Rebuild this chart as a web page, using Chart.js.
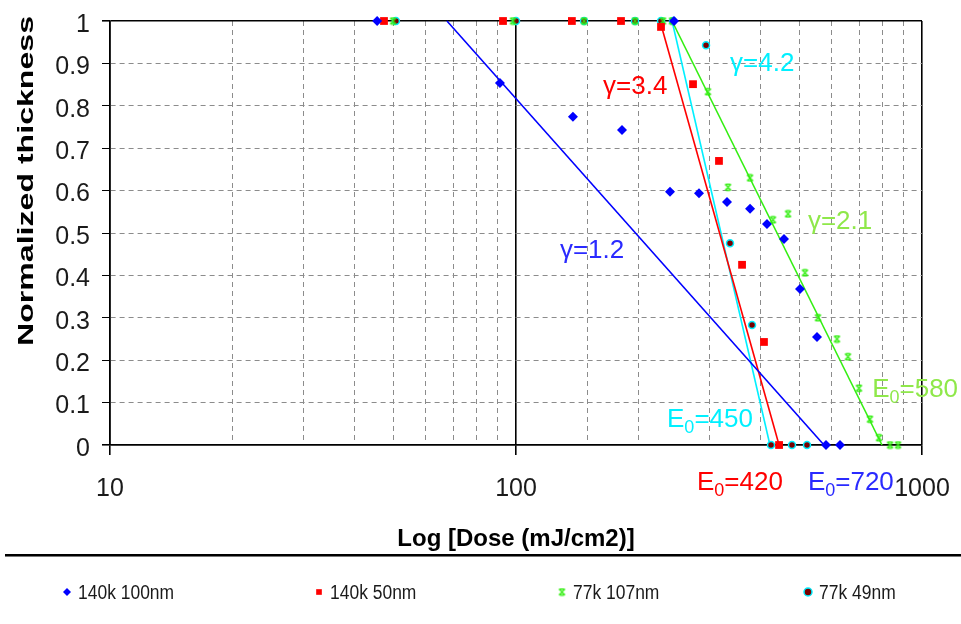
<!DOCTYPE html>
<html>
<head>
<meta charset="utf-8">
<title>Normalized thickness vs dose</title>
<script src="https://cdn.jsdelivr.net/npm/chart.js@4.4.1/dist/chart.umd.min.js"></script>
<style>
  html, body { margin: 0; padding: 0; background: #fff; }
  #wrap { width: 961px; height: 624px; }
</style>
</head>
<body>
<div id="wrap"><canvas id="chart" width="961" height="624"></canvas></div>
<script>
// --- measured points: dose (mJ/cm2) and normalized thickness ---
const seriesNames = ['140k 100nm', '140k 50nm', '77k 107nm', '77k 49nm']

const dose140k100 = [45.5, 245, 91.3, 138.1, 182.4, 239.5, 282.3, 330.9, 377.1, 415.1, 457.2, 500.6, 551.3, 580.1, 628.1]
const thick140k100 = [1, 1, 0.854, 0.774, 0.743, 0.597, 0.594, 0.573, 0.557, 0.521, 0.486, 0.368, 0.255, 0, 0]

const dose140k50 = [47.3, 92.9, 137.3, 181.4, 227.6, 272.9, 316.2, 360.4, 408.1, 444.6]
const thick140k50 = [1, 1, 1, 1, 0.986, 0.851, 0.670, 0.425, 0.243, 0]

const dose77k107 = [49.8, 98.3, 147.1, 196.4, 230.2, 242.3, 297.1, 332.8, 377.1, 429.5, 467.7, 515.0, 554.3, 617.5, 657.2, 699.5, 744.5, 783.8, 834.2, 872.9]
const thick77k107 = [1, 1, 1, 1, 1, 1, 0.833, 0.608, 0.630, 0.531, 0.545, 0.406, 0.300, 0.250, 0.208, 0.134, 0.061, 0.017, 0, 0]

const dose77k49 = [50.6, 100, 147.1, 196.4, 227.6, 243.6, 293.8, 336.6, 381.4, 424.7, 478.4, 520.9]
const thick77k49 = [1, 1, 1, 1, 1, 1, 0.943, 0.476, 0.283, 0, 0, 0]

// contrast fit lines (dose at thickness 1 -> dose at thickness 0)
const fitThick = [1, 0]
const fitDose140k100 = [67.6, 573.6]
const fitDose140k50 = [226.3, 444.6]
const fitDose77k107 = [242.3, 797]
const fitDose77k49 = [242.3, 422.2]

// labels on the fits
const gammaText = ['γ=1.2', 'γ=3.4', 'γ=2.1', 'γ=4.2']
const e0Text = ['720', '420', '580', '450']

// axis ticks
const xTickLabels = [10, 100, 1000]
const yTickLabels = ['0', '0.1', '0.2', '0.3', '0.4', '0.5', '0.6', '0.7', '0.8', '0.9', '1']

// --- styles ---
const FONT = '"Liberation Sans", Arial, sans-serif'
const colors = {
  blue: '#0000ff',
  red: '#ff0000',
  green: '#33ee11',
  cyan: '#00f0ff',
  greenText: '#8fe84a',
  blueText: '#2a2aff'
}

// anchors (dose, thickness) of the text labels: left edge / baseline
const gammaAnchor = [[128.3, 0.441], [163.8, 0.828], [523.6, 0.509], [336.6, 0.882]]
const e0Anchor = [[523.6, -0.106], [279.1, -0.106], [753.8, 0.113], [235.5, 0.0425]]
const labelColors = [colors.blueText, colors.red, colors.greenText, colors.cyan]

// green "star" marker
function makeStarMark(color, size) {
  const c = document.createElement('canvas')
  c.width = size
  c.height = size
  const g = c.getContext('2d')
  g.strokeStyle = color
  g.lineWidth = 1.3
  const a = 1.5, b = size - 1.5
  g.beginPath()
  g.moveTo(a, a); g.lineTo(b, b)
  g.moveTo(b, a); g.lineTo(a, b)
  g.moveTo(a + 1, a); g.lineTo(b - 1, a)
  g.moveTo(a + 1, b); g.lineTo(b - 1, b)
  g.stroke()
  return c
}
const starMark = makeStarMark(colors.green, 9)

const toPoints = (xs, ys) => xs.map((x, i) => ({ x: x, y: ys[i] }))

const markerSets = [
  { label: seriesNames[0], data: toPoints(dose140k100, thick140k100), pointStyle: 'rectRot', pointRadius: 5, backgroundColor: colors.blue, borderColor: colors.blue, borderWidth: 0 },
  { label: seriesNames[1], data: toPoints(dose140k50, thick140k50), pointStyle: 'rect', pointRadius: 5.5, backgroundColor: colors.red, borderColor: colors.red, borderWidth: 0 },
  { label: seriesNames[2], data: toPoints(dose77k107, thick77k107), pointStyle: starMark, pointRadius: 4, backgroundColor: colors.green, borderColor: colors.green, borderWidth: 1 },
  { label: seriesNames[3], data: toPoints(dose77k49, thick77k49), pointStyle: 'circle', pointRadius: 3.5, backgroundColor: '#7a0000', borderColor: colors.cyan, borderWidth: 1.5 }
]

const fitSets = [
  { data: toPoints(fitDose140k100, fitThick), borderColor: colors.blue },
  { data: toPoints(fitDose140k50, fitThick), borderColor: colors.red },
  { data: toPoints(fitDose77k107, fitThick), borderColor: colors.green },
  { data: toPoints(fitDose77k49, fitThick), borderColor: colors.cyan }
].map(d => Object.assign(d, { showLine: true, pointRadius: 0, borderWidth: 1.6 }))

const datasets = markerSets.concat(fitSets).map(d => Object.assign(d, { clip: false }))

const isDecade = v => Math.abs(Math.log10(v) - Math.round(Math.log10(v))) < 1e-6

// --- text labels, rotated y title, separator and legend ---
const extras = {
  id: 'extras',
  afterDraw(chart) {
    const { ctx, scales: { x, y } } = chart
    ctx.save()
    ctx.textBaseline = 'alphabetic'
    ctx.textAlign = 'left'

    // gamma labels
    ctx.font = `26px ${FONT}`
    gammaText.forEach((t, i) => {
      ctx.fillStyle = labelColors[i]
      ctx.fillText(t, x.getPixelForValue(gammaAnchor[i][0]), y.getPixelForValue(gammaAnchor[i][1]))
    })

    // E0 labels with subscript
    e0Text.forEach((t, i) => {
      let px = x.getPixelForValue(e0Anchor[i][0])
      const py = y.getPixelForValue(e0Anchor[i][1])
      ctx.fillStyle = labelColors[i]
      ctx.font = `26px ${FONT}`
      ctx.fillText('E', px, py)
      px += ctx.measureText('E').width
      ctx.font = `18px ${FONT}`
      ctx.fillText('0', px, py + 6)
      px += ctx.measureText('0').width
      ctx.font = `26px ${FONT}`
      ctx.fillText('=' + t, px, py)
    })

    // y axis title
    const yTitle = 'Normalized thickness'
    ctx.save()
    ctx.translate(33, 181)
    ctx.rotate(-Math.PI / 2)
    ctx.font = `bold 22px ${FONT}`
    const w = ctx.measureText(yTitle).width
    ctx.scale(330 / w, 1)
    ctx.textAlign = 'center'
    ctx.fillStyle = '#000'
    ctx.fillText(yTitle, 0, 0)
    ctx.restore()

    // separator line above the legend
    ctx.fillStyle = '#000'
    ctx.fillRect(5, 554, 956, 2)
    ctx.fillStyle = '#777'
    ctx.fillRect(5, 556, 956, 1)

    // legend
    const legendX = [67, 319, 562, 808]
    const legendY = 592
    markerSets.forEach((d, i) => {
      ctx.fillStyle = d.backgroundColor
      ctx.strokeStyle = d.borderColor
      ctx.lineWidth = d.borderWidth
      Chart.helpers.drawPoint(ctx, { pointStyle: d.pointStyle, radius: 4, rotation: 0, borderWidth: d.borderWidth }, legendX[i], legendY)
      ctx.save()
      ctx.translate(legendX[i] + 11, legendY + 7)
      ctx.scale(0.97, 1.15)
      ctx.font = `18px ${FONT}`
      ctx.fillStyle = '#1a1a1a'
      ctx.textBaseline = 'alphabetic'
      ctx.fillText(d.label, 0, 0)
      ctx.restore()
    })
    ctx.restore()
  }
}

new Chart(document.getElementById('chart'), {
  type: 'scatter',
  data: { datasets: datasets },
  options: {
    responsive: false,
    animation: false,
    devicePixelRatio: 1,
    layout: { padding: { left: 0, top: 21, right: 39, bottom: 68 } },
    plugins: {
      legend: { display: false },
      tooltip: { enabled: false }
    },
    scales: {
      x: {
        type: 'logarithmic',
        min: 10,
        max: 1000,
        afterFit: s => {
          s.height = 111
          s.paddingLeft = 0
          s.paddingRight = 0
        },
        ticks: {
          autoSkip: false,
          maxRotation: 0,
          padding: 19,
          color: '#1a1a1a',
          font: { family: FONT, size: 25 },
          callback: v => xTickLabels.some(t => Math.abs(t - v) < 1e-6) ? String(v) : ''
        },
        grid: {
          color: c => isDecade(c.tick.value) ? '#000' : '#8c8c8c',
          lineWidth: c => isDecade(c.tick.value) ? 1.6 : 1,
          tickLength: 10,
          tickColor: c => isDecade(c.tick.value) ? '#000' : 'rgba(0,0,0,0)'
        },
        border: {
          color: '#000',
          width: 1.6,
          dash: c => (c.tick && !isDecade(c.tick.value)) ? [5, 4] : []
        },
        title: {
          display: true,
          text: 'Log [Dose (mJ/cm2)]',
          color: '#000',
          font: { family: FONT, size: 24, weight: 'bold' },
          padding: { top: 0, bottom: 2 }
        }
      },
      y: {
        min: 0,
        max: 1,
        afterFit: s => {
          s.width = 110
          s.paddingTop = 0
          s.paddingBottom = 0
        },
        ticks: {
          stepSize: 0.1,
          padding: 12,
          labelOffset: 4,
          color: '#1a1a1a',
          font: { family: FONT, size: 25 },
          callback: (v, i) => yTickLabels[i]
        },
        grid: {
          color: c => (c.tick.value === 1 || c.tick.value === 0) ? '#000' : '#8c8c8c',
          lineWidth: c => (c.tick.value === 1 || c.tick.value === 0) ? 1.6 : 1,
          tickLength: 8,
          tickColor: '#000'
        },
        border: {
          color: '#000',
          width: 1.6,
          dash: c => (c.tick && c.tick.value > 0 && c.tick.value < 1) ? [5, 4] : []
        }
      }
    }
  },
  plugins: [extras]
})
</script>
</body>
</html>
